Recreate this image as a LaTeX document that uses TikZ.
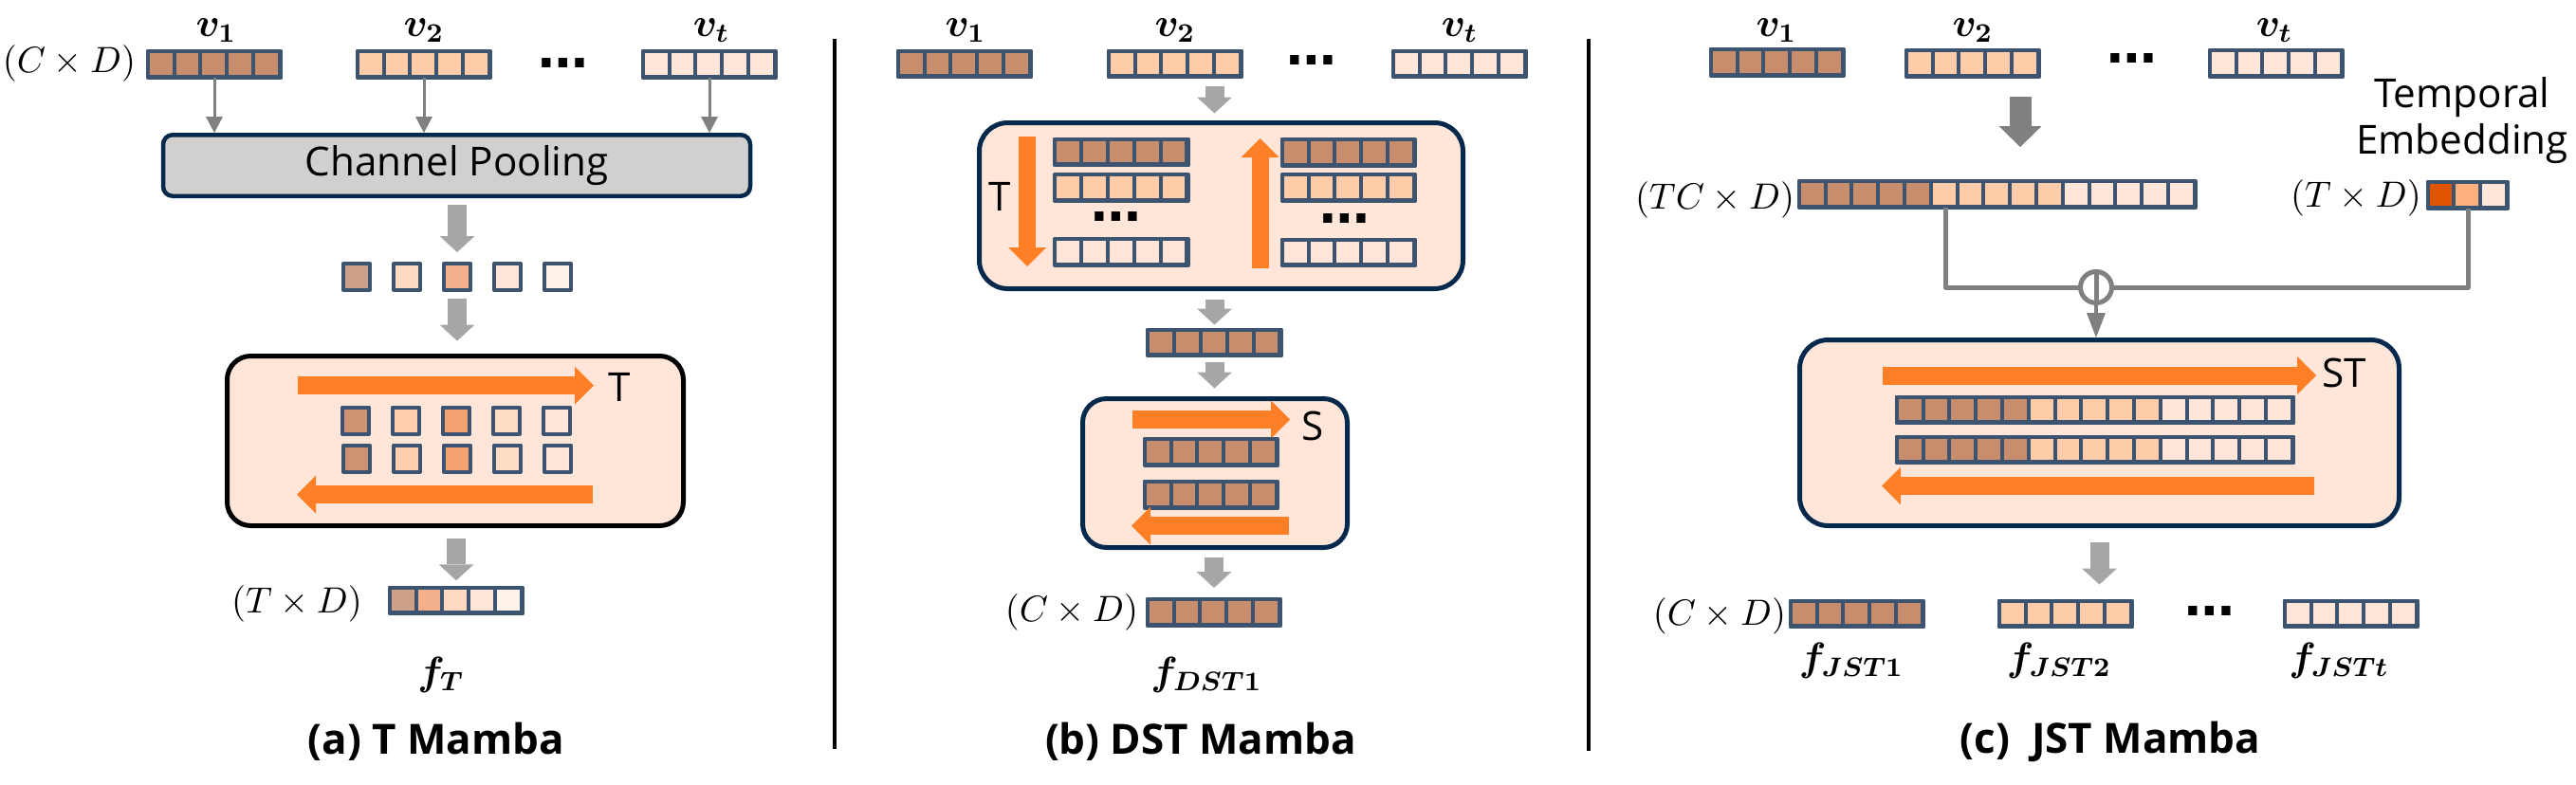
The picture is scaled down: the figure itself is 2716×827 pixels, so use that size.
\documentclass[tikz,border=0pt]{standalone}
\usepackage{fontspec}
\setsansfont{Open Sans}
\newfontfamily\dotsfont{DejaVu Sans}
\usepackage{bm}
\usetikzlibrary{arrows.meta}

\definecolor{cellB}{HTML}{C88D6D}
\definecolor{cellP}{HTML}{FFCCAA}
\definecolor{cellL}{HTML}{FFE6D8}
\definecolor{cellBd}{HTML}{3D5470}
\definecolor{boxbg}{HTML}{FFE6D8}
\definecolor{navy}{HTML}{05294D}
\definecolor{scan}{HTML}{FF7F27}
\definecolor{flowgray}{HTML}{A6A6A6}
\definecolor{linegray}{HTML}{808080}
\definecolor{poolbg}{HTML}{D1D0CF}
\definecolor{oA}{HTML}{CFA088}
\definecolor{oB}{HTML}{F4B08A}
\definecolor{oC}{HTML}{FFD9C0}
\definecolor{oD}{HTML}{FFE6D8}
\definecolor{oE}{HTML}{FFF2EA}
\definecolor{iA}{HTML}{CE9373}
\definecolor{iB}{HTML}{FFD0AF}
\definecolor{iC}{HTML}{F3A371}
\definecolor{iD}{HTML}{FFDCC6}
\definecolor{iE}{HTML}{FFE6D8}
\definecolor{tempA}{HTML}{E05500}
\definecolor{tempB}{HTML}{FFB07F}
\definecolor{tempC}{HTML}{FFE6D8}

\newlength\cellw \setlength\cellw{2.78mm}
\newlength\cellh \setlength\cellh{2.65mm}

% bar of cells: name, centre, list of cell colours
\newcommand{\featbar}[3]{%
  \edef\barcols{#3}%
  \foreach \col [count=\k] in \barcols {\xdef\ncells{\k}}
  \node[inner sep=0pt, minimum height=\cellh, minimum width=\ncells*\cellw] (#1) at (#2) {};
  \foreach \col [count=\i from 0] in \barcols
    \draw[cellline, fill=\col] ([xshift=\i*\cellw]#1.north west) rectangle ++(\cellw,-\cellh);
  \draw[cellline] (#1.north west) rectangle (#1.south east);
}
\def\fiveB{cellB,cellB,cellB,cellB,cellB}
\def\fiveP{cellP,cellP,cellP,cellP,cellP}
\def\fiveL{cellL,cellL,cellL,cellL,cellL}

\begin{document}
\begin{tikzpicture}[x=0.1mm, y=-0.1mm, line join=round,
  cellline/.style={draw=cellBd, line width=0.4mm},
  sq/.style={cellline, minimum size=2.8mm, inner sep=0pt},
  poolbox/.style={draw=navy, line width=0.45mm, fill=poolbg, rounded corners=1mm, minimum width=61.9mm, minimum height=6.45mm},
  scanbox/.style={draw=navy, line width=0.5mm, fill=boxbg, rounded corners=3mm},
  feedarrow/.style={draw=linegray, line width=0.3mm, -{Triangle[width=1.8mm,length=1.7mm,line width=0pt]}},
  flowarrow/.style={draw=flowgray, line width=2mm, -{Triangle[width=3.7mm,length=1.7mm,line width=0pt]}},
  darkarrow/.style={draw=linegray, line width=2.3mm, -{Triangle[width=4.5mm,length=2.2mm,line width=0pt]}},
  plusarrow/.style={draw=linegray, line width=0.45mm, -{Triangle[width=2mm,length=2.6mm,line width=0pt]}},
  scanarrow/.style={draw=scan, line width=1.9mm, -{Triangle[width=4mm,length=2mm,line width=0pt]}},
  sumline/.style={draw=linegray, line width=0.5mm},
  dimlab/.style={font=\fontsize{10.5}{12}\selectfont, inner sep=0pt},
  vlab/.style={font=\fontsize{12}{13}\selectfont, inner sep=0pt, anchor=base},
  flab/.style={font=\fontsize{12}{14}\selectfont, inner sep=0pt, anchor=base},
  txt/.style={font=\sffamily\fontsize{12}{14}\selectfont, inner sep=0pt},
  dotsl/.style={font=\dotsfont\bfseries\fontsize{15}{15}\selectfont, inner sep=0pt, anchor=base},
  title/.style={font=\sffamily\bfseries\fontsize{12.5}{15}\selectfont, inner sep=0pt}]

\useasboundingbox (0,0) rectangle (2716,827);

% ---------- (a) T Mamba ----------
\node[dimlab] (ain) at (73,66.5) {$(C\times D)$};
\featbar{a1}{226,68}{\fiveB}
\featbar{a2}{447,68}{\fiveP}
\featbar{a3}{748,68}{\fiveL}
\node[vlab] (a1lab) at (228,38) {$\bm{v_1}$};
\node[vlab] (a2lab) at (447,38) {$\bm{v_2}$};
\node[vlab] (a3lab) at (750,38) {$\bm{v_t}$};
\node[dotsl] (adots) at (594,71) {…};

\node[poolbox, txt] (pool) at (481.5,174.5) {Channel Pooling};
\foreach \b in {a1,a2,a3}
  \draw[feedarrow] (\b.south) -- (\b.south |- pool.north);

\foreach \col [count=\i from 0] in {oA,oC,oB,oD,oE}
  \node[sq, fill=\col] (p\i) at (376+53*\i,292) {};
\draw[flowarrow, shorten <=0.73mm, shorten >=1mm] (pool.south -| p2.north) -- (p2.north);

\node[scanbox, draw=black, rounded corners=2.5mm, minimum width=48.1mm, minimum height=17.9mm] (tbox) at (480,465) {};
\draw[flowarrow, shorten <=0.7mm, shorten >=1.35mm] (p2.south) -- (p2.south |- tbox.north);
\draw[scanarrow] (314,406.5) -- (626,406.5);
\node[txt] (tlab) at (653,408) {T};
\foreach \col [count=\i from 0] in {iA,iB,iC,iD,iE} {
  \node[sq, fill=\col] (q\i) at (375+53*\i,443.5) {};
  \node[sq, fill=\col] (r\i) at (376+53*\i,483.5) {};
}
\draw[scanarrow] (625,521.5) -- (313,521.5);

\featbar{aout}{481,633.5}{oA,oB,oC,oD,oE}
\draw[flowarrow, shorten <=1.05mm, shorten >=0.73mm] (tbox.south -| aout.north) -- (aout.north);
\node[dimlab] (aoutlab) at (313,637) {$(T\times D)$};
\node[flab] (fT) at (465,722) {$\bm{f_{T}}$};
\node[title] (atitle) at (460,782) {(a) T Mamba};

\draw[line width=0.35mm] (880,41) -- (880,790);

% ---------- (b) DST Mamba ----------
\featbar{b1}{1017,67.5}{\fiveB}
\featbar{b2}{1239,67.5}{\fiveP}
\featbar{b3}{1539,67.5}{\fiveL}
\node[vlab] (b1lab) at (1018,38) {$\bm{v_1}$};
\node[vlab] (b2lab) at (1239,38) {$\bm{v_2}$};
\node[vlab] (b3lab) at (1539,38) {$\bm{v_t}$};
\node[dotsl] (bdots) at (1383,68) {…};

\node[scanbox, minimum width=51mm, minimum height=17.5mm] (dst) at (1287.5,217) {};
\draw[scanarrow, line width=1.8mm] (1083,144) -- (1083,281);
\node[txt] (dstT) at (1054,207) {T};
\featbar{bl1}{1182.5,160.5}{\fiveB}
\featbar{bl2}{1182.5,198}{\fiveP}
\featbar{bl3}{1182.5,266}{\fiveL}
\node[dotsl] (bldots) at (1177,233) {…};
\draw[scanarrow, line width=1.8mm] (1328.5,283) -- (1328.5,146);
\featbar{br1}{1422,161}{\fiveB}
\featbar{br2}{1422,198}{\fiveP}
\featbar{br3}{1422,266.5}{\fiveL}
\node[dotsl] (brdots) at (1418,235) {…};

\featbar{bmid}{1280.5,361.5}{\fiveB}
\draw[flowarrow, shorten <=1mm, shorten >=0.75mm] (b2.south -| bmid.north) -- (dst.north -| bmid.north);
\draw[flowarrow, shorten <=0.85mm, shorten >=0.5mm] (dst.south -| bmid.north) -- (bmid.north);

\node[scanbox, rounded corners=2.5mm, minimum width=27.9mm, minimum height=15.7mm] (sbox) at (1281,499) {};
\draw[flowarrow, shorten <=0.7mm, shorten >=0.85mm] (bmid.south) -- (bmid.south |- sbox.north);
\draw[scanarrow] (1194,442.5) -- (1360,442.5);
\node[txt] (slab) at (1384,449) {S};
\featbar{bs1}{1277,477}{\fiveB}
\featbar{bs2}{1277,522}{\fiveB}
\draw[scanarrow] (1359,554.5) -- (1193,554.5);

\featbar{bout}{1280,646}{\fiveB}
\draw[flowarrow, shorten <=0.75mm, shorten >=1.2mm] (sbox.south -| bout.north) -- (bout.north);
\node[dimlab] (boutlab) at (1130,646) {$(C\times D)$};
\node[flab] (fDST) at (1272,722) {$\bm{f_{DST1}}$};
\node[title] (btitle) at (1266,782) {(b) DST Mamba};

\draw[line width=0.35mm] (1675,41) -- (1675,792);

% ---------- (c) JST Mamba ----------
\featbar{c1}{1874,66}{\fiveB}
\featbar{c2}{2080,67}{\fiveP}
\featbar{c3}{2400,67}{\fiveL}
\node[vlab] (c1lab) at (1873,38) {$\bm{v_1}$};
\node[vlab] (c2lab) at (2080,38) {$\bm{v_2}$};
\node[vlab] (c3lab) at (2398,38) {$\bm{v_t}$};
\node[dotsl] (cdots) at (2248,66) {…};

\node[dimlab] (tclab) at (1808,211) {$(TC\times D)$};
\featbar{tc}{2106,205}{\fiveB,\fiveP,\fiveL}
\coordinate (tcin) at ([xshift=2.4mm]tc.north);
\draw[darkarrow, shorten <=2.1mm, shorten >=3.6mm] (tcin |- c2.south) -- (tcin);

\node[txt, align=center] (temb) at (2596,127) {Temporal\\Embedding};
\node[dimlab] (telab) at (2484,209) {$(T\times D)$};
\featbar{te}{2602,206}{tempA,tempB,tempC}

\node[circle, draw=linegray, line width=0.5mm, minimum size=3.3mm, inner sep=0pt] (plus) at (2210,303) {};
\draw[sumline] ([xshift=-5.5mm]tc.south) |- (plus.west);
\draw[sumline] (plus.east) -| (te.south);
\draw[sumline] (plus.north) -- (plus.south);

\node[scanbox, minimum width=63.2mm, minimum height=19.6mm] (st) at (2213.5,456.5) {};
\draw[plusarrow] (plus.south) -- (plus.south |- st.north);
\draw[scanarrow] (1985,396) -- (2442,396);
\node[txt] (stlab) at (2472,393) {ST};
\featbar{st1}{2209,432.5}{\fiveB,\fiveP,\fiveL}
\featbar{st2}{2209,474.5}{\fiveB,\fiveP,\fiveL}
\draw[scanarrow] (2440,512.5) -- (1984,512.5);

\featbar{f1}{1958,647.5}{\fiveB}
\featbar{f2}{2178,647.5}{\fiveP}
\featbar{f3}{2479,647.5}{\fiveL}
\draw[flowarrow, shorten <=1.45mm, shorten >=1.7mm] (st.south) -- (st.south |- f2.north);
\node[dimlab] (foutlab) at (1813,650) {$(C\times D)$};
\node[dotsl] (fdots) at (2330,649) {…};
\node[flab] (f1lab) at (1952,707) {$\bm{f_{JST1}}$};
\node[flab] (f2lab) at (2171,707) {$\bm{f_{JST2}}$};
\node[flab] (f3lab) at (2466,707) {$\bm{f_{JSTt}}$};
\node[title] (ctitle) at (2225,782) {(c)~ JST Mamba};
\end{tikzpicture}
\end{document}
